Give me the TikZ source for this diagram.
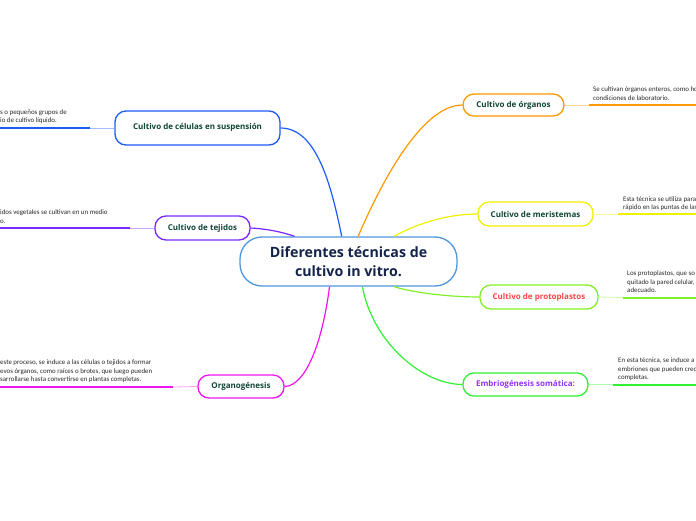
\documentclass[tikz,border=0pt]{standalone}
\usepackage{fontspec}
\setmainfont{Open Sans}
\newfontfamily\smallfont{Carlito}
\definecolor{cblue}{RGB}{30,90,250}
\definecolor{cpurple}{RGB}{120,40,255}
\definecolor{cmag}{RGB}{240,20,240}
\definecolor{corange}{RGB}{255,153,0}
\definecolor{cyellow}{RGB}{240,240,0}
\definecolor{clime}{RGB}{130,240,40}
\definecolor{cgreen}{RGB}{50,240,50}
\definecolor{ccenter}{RGB}{80,150,220}
\definecolor{tgreen}{RGB}{15,70,55}
\definecolor{tnavy}{RGB}{20,35,75}
\definecolor{tred}{RGB}{255,70,70}
\definecolor{tviolet}{RGB}{150,50,255}
\definecolor{tgray}{RGB}{40,40,40}
\tikzset{
  x=1pt, y=-1pt,
  branch/.style={draw=#1, line width=1.3pt, fill=white, rounded corners=11pt,
    font=\bfseries\fontsize{8}{10}\selectfont, text=tgreen, inner sep=0pt},
  centre/.style={draw=ccenter, line width=1.3pt, fill=white, rounded corners=22pt,
    font=\bfseries\fontsize{14.2}{19}\selectfont, text=tnavy, align=center,
    minimum width=217pt, minimum height=49pt, inner sep=0pt},
  note/.style={font=\smallfont\fontsize{6.9}{8.5}\selectfont, text=tgray, align=left, inner sep=0pt},
  link/.style={draw=#1, line width=1.2pt},
  thin/.style={draw=#1!40, line width=0.8pt},
  thick/.style={draw=#1, line width=2pt},
}
\begin{document}
\begin{tikzpicture}
\useasboundingbox (0,0) rectangle (696,520);
\begin{scope}
\clip (0,0) rectangle (696,520);

% central node
\node[centre] (cent) at (348.5,261.5) {Diferentes técnicas de\\cultivo in vitro.};

% branch nodes
\node[branch=cblue, minimum width=165pt, minimum height=34pt] (susp) at (197.5,128) {\raisebox{4pt}{Cultivo de células en suspensión}};
\node[branch=cpurple, minimum width=95pt, minimum height=24pt] (tej) at (202.5,228) {Cultivo de tejidos};
\node[branch=cmag, minimum width=86pt, minimum height=23pt] (org) at (241,386.5) {Organogénesis};
\node[branch=corange, minimum width=101pt, minimum height=22pt] (organos) at (513.5,105) {Cultivo de órganos};
\node[branch=cyellow, minimum width=115pt, minimum height=24pt] (merist) at (535.5,214) {Cultivo de meristemas};
\node[branch=clime, minimum width=118pt, minimum height=24pt, text=tred] (proto) at (539,297) {Cultivo de protoplastos};
\node[branch=cgreen, minimum width=125pt, minimum height=23pt, text=tviolet] (embrio) at (525.5,384.5) {Embriogénesis somática:};

% connectors from centre
\draw[link=cblue] (susp.east) .. controls (318,128) and (332,190) .. (cent.105);
\draw[link=cpurple] (tej.east) .. controls (268,229) and (282,232) .. (cent.155);
\draw[link=cmag] (cent.233) .. controls (322,345) and (305,386) .. (org.east);
\draw[link=corange] (cent.69) .. controls (378,190) and (420,105) .. (organos.west);
\draw[link=cyellow] (cent.29) .. controls (420,222) and (450,214) .. (merist.west);
\draw[link=clime] (cent.331) .. controls (415,293) and (450,297) .. (proto.west);
\draw[link=cgreen] (cent.299) .. controls (372,340) and (420,384) .. (embrio.west);

% note lines
\coordinate (e1) at (0,128);   \coordinate (m1) at (90,128);
\coordinate (e2) at (0,228);   \coordinate (m2) at (130,228);
\coordinate (e3) at (0,387);   \coordinate (m3) at (173,387);
\coordinate (e4) at (696,105); \coordinate (m4) at (589,105);
\coordinate (e5) at (696,214); \coordinate (m5) at (618,214);
\coordinate (e6) at (696,297.5); \coordinate (m6) at (623,297.5);
\coordinate (e7) at (696,384.5); \coordinate (m7) at (613,384.5);

\draw[thin=cblue] (susp.west) -- (m1); \draw[thick=cblue] (m1) -- (e1);
\draw[thin=cpurple] (tej.west) -- (m2); \draw[thick=cpurple] (m2) -- (e2);
\draw[thin=cmag] (org.west) -- (m3); \draw[thick=cmag] (m3) -- (e3);
\draw[thin=corange] (organos.east) -- (m4); \draw[thick=corange] (m4) -- (e4);
\draw[thin=cyellow] (merist.east) -- (m5); \draw[thick=cyellow] (m5) -- (e5);
\draw[thin=clime] (proto.east) -- (m6); \draw[thick=clime] (m6) -- (e6);
\draw[thin=cgreen] (embrio.east) -- (m7); \draw[thick=cgreen] (m7) -- (e7);

% notes (anchored at the baseline of the last line)
\node[note, anchor=base west] (n1) at (0,122.5) {s o pequeños grupos de\\io de cultivo líquido.};
\node[note, anchor=base west] (n2) at (0,223) {idos vegetales se cultivan en un medio\\o.};
\node[note, anchor=base west] (n3) at (0,381.5) {este proceso, se induce a las células o tejidos a formar\\evos órganos, como raíces o brotes, que luego pueden\\sarrollarse hasta convertirse en plantas completas.};
\node[note, anchor=base west] (n4) at (593,100) {Se cultivan órganos enteros, como ho\\condiciones de laboratorio.};
\node[note, anchor=base west] (n5) at (623,209.5) {Esta técnica se utiliza para\\rápido en las puntas de las};
\node[note, anchor=base west] (n6) at (627,292.5) {Los protoplastos, que so\\quitado la pared celular,\\adecuado.};
\node[note, anchor=base west] (n7) at (618,379.5) {En esta técnica, se induce a\\embriones que pueden crec\\completas.};
\end{scope}
\end{tikzpicture}
\end{document}
